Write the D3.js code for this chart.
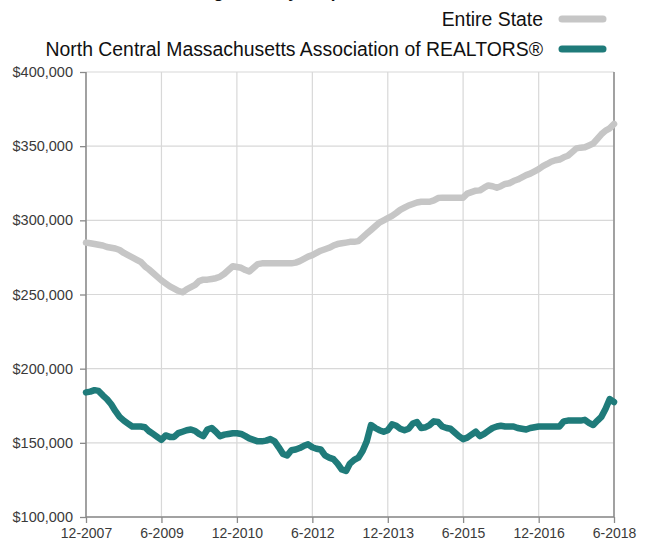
<!DOCTYPE html>
<html>
<head>
<meta charset="utf-8">
<script src="https://cdn.jsdelivr.net/npm/d3@7"></script>
<style>
  body { margin: 0; background: #fff; }
  svg text { font-family: "Liberation Sans", Arial, sans-serif; }
</style>
</head>
<body>
<div id="chart"></div>
<script>
// monthly median price, in thousands, 12-2007 .. 6-2018
var stateValues = [
  285, 284.5, 284, 283.5, 283, 282, 281.5, 281, 280, 278, 276.5, 275,
  273.5, 272, 269, 267, 264.5, 262, 259.5, 257.5, 255.5, 254, 252.5, 251.5,
  253.5, 255, 256.5, 259, 260, 260, 260.5, 261, 262, 264, 266.5, 269,
  268.5, 268, 266.5, 265.5, 268, 270.5, 271, 271, 271, 271, 271, 271,
  271, 271, 271.5, 272.5, 274, 275.5, 276.5, 278, 279.5, 280.5, 281.5, 283,
  284, 284.5, 285, 285.5, 285.5, 286, 288.5, 291, 293.5, 296, 298.5, 300,
  301.5, 303, 305, 307, 308.5, 310, 311, 312, 312.5, 312.5, 312.5, 313.5,
  315, 315.3, 315.3, 315.3, 315.3, 315.3, 315.3, 318, 319, 320, 320.2, 322,
  323.5, 323, 322, 323, 324.5, 325, 326.5, 327.5, 329, 330.5, 331.5, 333,
  334.5, 336.5, 338, 339.5, 340.5, 341, 342.5, 343.5, 346, 348.5, 349, 349.3,
  350.5, 351.8, 355, 358, 360.5, 362, 365
];
var regionValues = [
  184, 184.5, 185.5, 185, 182, 179.5, 176, 171.5, 167.5, 165, 163, 161,
  161, 161, 160.5, 158, 156, 154, 152, 155, 154, 154, 156.5, 157.5,
  158.5, 159, 158, 156, 154.5, 159, 160, 157.5, 154.5, 155.5, 156, 156.5,
  156.5, 156, 154.5, 153, 152, 151, 151, 151.5, 152.5, 151, 147, 142.5,
  141.5, 145, 145.5, 146.5, 148, 149, 147, 146, 145.5, 141.5, 140, 139,
  136, 132, 131, 136, 138.5, 140, 144.5, 151, 162, 160, 158.5, 157.5,
  158.5, 162.5, 161.5, 159.5, 158.5, 159.5, 163, 164, 160, 160.5, 162, 164.5,
  164, 161, 160, 159.5, 157, 154.5, 152.5, 153.5, 155.5, 157.5, 154.5, 156,
  158, 160, 161, 161.5, 161, 161, 161, 160, 159.5, 159, 160, 160.5,
  161, 161, 161, 161, 161, 161, 164.5, 165, 165, 165, 165, 165.5,
  163.5, 162, 165, 167.5, 173, 179.5, 177.5
];
var seriesNames = ["Entire State", "North Central Massachusetts Association of REALTORS®"];
var seriesColors = ["#c6c6c6", "#1f7b7a"];
var xTickLabels = ["12-2007", "6-2009", "12-2010", "6-2012", "12-2013", "6-2015", "12-2016", "6-2018"];
var yTicks = [100000, 150000, 200000, 250000, 300000, 350000, 400000];

var width = 649, height = 542;
var margin = { top: 72, right: 35, bottom: 25, left: 86 };

var parseMonth = d3.timeParse("%m-%Y");
var startMonth = parseMonth("12-2007");
var months = regionValues.map(function(v, i) { return d3.timeMonth.offset(startMonth, i); });

var svg = d3.select("#chart").append("svg")
  .attr("width", width).attr("height", height);

var x = d3.scaleTime()
  .domain([startMonth, parseMonth("6-2018")])
  .range([margin.left, width - margin.right]);
var y = d3.scaleLinear()
  .domain([100000, 400000])
  .range([height - margin.bottom, margin.top]);

// title, mostly cut off by the top edge as in the source
svg.append("text")
  .attr("x", 18).attr("y", -2)
  .attr("font-size", 17).attr("font-weight", "bold").attr("fill", "#111")
  .text("Median Sales Price - Single-Family Properties");

// grid
var tickDates = xTickLabels.map(parseMonth);
svg.append("g").selectAll("line").data(tickDates).enter().append("line")
  .attr("x1", function(d) { return x(d); }).attr("x2", function(d) { return x(d); })
  .attr("y1", margin.top).attr("y2", height - margin.bottom)
  .attr("stroke", "#d8d8d8").attr("stroke-width", 1.2);
svg.append("g").selectAll("line").data(yTicks).enter().append("line")
  .attr("x1", margin.left).attr("x2", width - margin.right)
  .attr("y1", function(d) { return y(d); }).attr("y2", function(d) { return y(d); })
  .attr("stroke", "#d8d8d8").attr("stroke-width", 1.2);

// axes
var yAxis = d3.axisLeft(y).tickValues(yTicks).tickSize(6).tickPadding(7)
  .tickFormat(function(d) { return "$" + d3.format(",")(d); });
var xAxis = d3.axisBottom(x).tickValues(tickDates).tickSize(6).tickPadding(5)
  .tickFormat(d3.timeFormat("%-m-%Y"));

var gy = svg.append("g").attr("transform", "translate(" + margin.left + ",0)").call(yAxis);
var gx = svg.append("g").attr("transform", "translate(0," + (height - margin.bottom) + ")").call(xAxis);
[gy, gx].forEach(function(g) {
  g.select(".domain").remove();
  g.selectAll("line").attr("stroke", "#8a8a8a").attr("stroke-width", 1.3);
  g.selectAll("text").attr("fill", "#3a3a3a").attr("font-size", 14.5)
    .style("font-family", "'Liberation Sans', Arial, sans-serif");
});
gx.selectAll("text").attr("font-size", 14);

// frame: left, bottom, right
svg.append("path")
  .attr("d", "M" + margin.left + "," + margin.top + "V" + (height - margin.bottom) +
             "H" + (width - margin.right) + "V" + margin.top)
  .attr("fill", "none").attr("stroke", "#8a8a8a").attr("stroke-width", 1.5);

// lines
var line = d3.line()
  .x(function(d, i) { return x(months[i]); })
  .y(function(d) { return y(d * 1000); })
  .curve(d3.curveLinear);

[stateValues, regionValues].forEach(function(values, k) {
  svg.append("path").datum(values)
    .attr("d", line)
    .attr("fill", "none")
    .attr("stroke", seriesColors[k])
    .attr("stroke-width", 6.5)
    .attr("stroke-linejoin", "round")
    .attr("stroke-linecap", "round");
});

// legend
var legend = svg.append("g").selectAll("g").data(seriesNames).enter().append("g")
  .attr("transform", function(d, i) { return "translate(0," + (19 + i * 30) + ")"; });
legend.append("text")
  .attr("x", 543).attr("dy", "0.35em").attr("text-anchor", "end")
  .attr("font-size", 19.4).attr("fill", "#111")
  .text(function(d) { return d; });
legend.append("line")
  .attr("x1", 562).attr("x2", 603)
  .attr("stroke", function(d, i) { return seriesColors[i]; })
  .attr("stroke-width", 7).attr("stroke-linecap", "round");
</script>
</body>
</html>
